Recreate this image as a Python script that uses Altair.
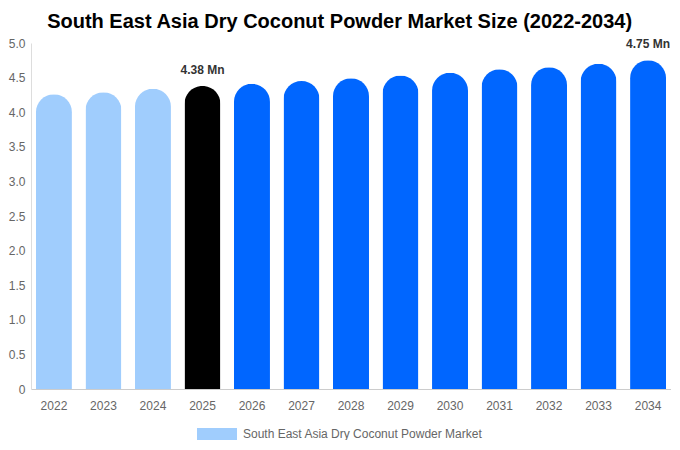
import altair as alt
import pandas as pd

years = ["2022", "2023", "2024", "2025", "2026", "2027", "2028", "2029", "2030", "2031", "2032", "2033", "2034"]
values = [4.26, 4.29, 4.34, 4.38, 4.41, 4.45, 4.49, 4.53, 4.57, 4.62, 4.65, 4.70, 4.75]
groups = ["South East Asia Dry Coconut Powder Market"] * 3 + ["Base"] + ["Forecast"] * 9
labels = ["", "", "", "4.38 Mn", "", "", "", "", "", "", "", "", "4.75 Mn"]
yticks = [0, 0.5, 1, 1.5, 2, 2.5, 3, 3.5, 4, 4.5, 5]

df = pd.DataFrame({"year": years, "value": values, "group": groups, "label": labels})

legend_name = "South East Asia Dry Coconut Powder Market"

x = alt.X("year:N", title=None, sort=years,
          scale=alt.Scale(paddingInner=0.273, paddingOuter=0.1),
          axis=alt.Axis(labelAngle=0, labelColor="#666666", labelFontSize=12,
                        labelFont="Liberation Sans", ticks=False, labelPadding=11,
                        domainColor="#cccccc"))

y = alt.Y("value:Q", title=None,
          scale=alt.Scale(domain=[0, 5], nice=False),
          axis=alt.Axis(values=yticks, labelOverlap=False, tickCount=11,
                        labelExpr="datum.value == 0 ? '0' : format(datum.value, '.1f')",
                        grid=False, ticks=False, labelColor="#666666", labelFontSize=12,
                        labelFont="Liberation Sans", domainColor="#dddddd", labelPadding=6))

bars = alt.Chart(df).mark_bar(cornerRadiusTopLeft=18, cornerRadiusTopRight=18).encode(
    x=x,
    y=y,
    color=alt.Color("group:N",
                    scale=alt.Scale(domain=[legend_name, "Base", "Forecast"],
                                    range=["#a0cdfd", "#000000", "#0066ff"]),
                    legend=alt.Legend(title=None, orient="none", legendX=166, legendY=371,
                                      direction="horizontal", values=[legend_name],
                                      symbolType="M-1,-0.3L1,-0.3L1,0.3L-1,0.3Z",
                                      symbolSize=1600, symbolStrokeWidth=0, labelLimit=0,
                                      labelOffset=6,
                                      labelColor="#666666", labelFontSize=12,
                                      labelFont="Liberation Sans")),
)

text = alt.Chart(df).transform_filter("datum.label != ''").mark_text(
    dy=-16, fontSize=12, fontWeight="bold", color="#333333", font="Liberation Sans"
).encode(
    x=x,
    y=y,
    text="label:N",
)

chart = (bars + text).properties(
    width=640, height=346,
    padding={"left": 0, "top": 4, "right": 0, "bottom": 0},
    title=alt.TitleParams("South East Asia Dry Coconut Powder Market Size (2022-2034)",
                          fontSize=20, fontWeight="bold", color="#000000",
                          font="Liberation Sans", anchor="middle", frame="bounds", offset=5),
).configure_view(stroke=None).configure_axis(labelOverlap=False)

chart.save("out.html", embed_options={"renderer": "svg", "actions": False})
